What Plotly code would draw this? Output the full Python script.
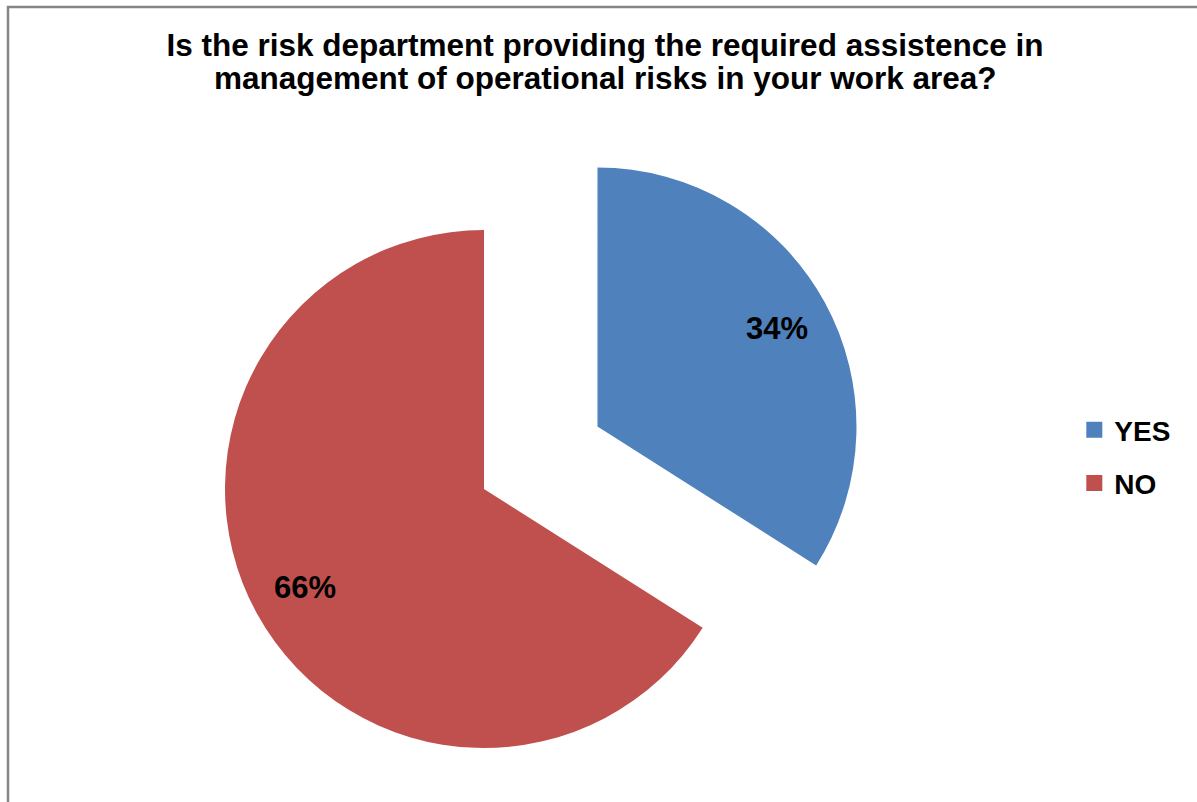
import math
import plotly.graph_objects as go

# Survey answers
categories = ["YES", "NO"]
shares = [34, 66]
slice_colors = ["#4F81BD", "#C0504D"]
pull = [0.5, 0.0]

title_lines = [
    "Is the risk department providing the required assistence in",
    "management of operational risks in your work area?",
]

# Canvas and pie geometry (pixels)
W, H = 1197, 802
R = 259
BASE_CX, BASE_CY = 484, 489
LABEL_R = 0.79
FONT = "Liberation Sans, Arial, sans-serif"

total = sum(shares)
fig = go.Figure()

# One pie per slice so that an exploded slice keeps the full radius:
# every trace draws all slices, only its own one is painted.
start = 0.0
for i, (cat, val) in enumerate(zip(categories, shares)):
    frac = val / total
    mid = (start + frac / 2) * 2 * math.pi  # clockwise from 12 o'clock
    start += frac
    dx, dy = math.sin(mid), -math.cos(mid)
    cx = BASE_CX + pull[i] * R * dx
    cy = BASE_CY + pull[i] * R * dy
    colors = [c if j == i else "rgba(0,0,0,0)" for j, c in enumerate(slice_colors)]
    fig.add_trace(go.Pie(
        labels=categories, values=shares, sort=False,
        direction="clockwise", rotation=0,
        marker=dict(colors=colors, line=dict(width=0)),
        textinfo="none", hoverinfo="skip", showlegend=False,
        domain=dict(x=[(cx - R) / W, (cx + R) / W],
                    y=[1 - (cy + R) / H, 1 - (cy - R) / H]),
    ))
    fig.add_annotation(
        x=(cx + LABEL_R * R * dx) / W, y=1 - (cy + LABEL_R * R * dy) / H,
        xref="paper", yref="paper", xanchor="center", yanchor="middle",
        showarrow=False,
        text=f"{val / total:.0%}",
        font=dict(family=FONT, size=31, color="black", weight="bold"),
    )

# Legend entries
for cat, col in zip(categories, slice_colors):
    fig.add_trace(go.Scatter(
        x=[None], y=[None], mode="markers", name=cat, legendgroup=cat,
        marker=dict(symbol="square", size=16, color=col),
    ))

title_font = dict(family=FONT, size=31.5, color="black", weight="bold")

# Second title line, set separately to keep the tight line spacing
fig.add_annotation(
    x=605 / W, y=1 - 77.5 / H, xref="paper", yref="paper",
    xanchor="center", yanchor="middle", showarrow=False,
    text=title_lines[1], font=title_font,
)

fig.update_layout(
    width=W, height=H,
    margin=dict(l=0, r=0, t=0, b=0),
    paper_bgcolor="white", plot_bgcolor="white",
    xaxis=dict(visible=False), yaxis=dict(visible=False),
    title=dict(
        text=title_lines[0],
        x=605 / W, xanchor="center", y=1 - 44.9 / H, yanchor="middle", yref="container",
        font=title_font,
    ),
    legend=dict(
        x=0.8975, xanchor="left", y=1 - 405 / H, yanchor="top",
        traceorder="grouped", tracegroupgap=14,
        font=dict(family=FONT, size=28, color="black", weight="bold"),
        bgcolor="rgba(0,0,0,0)",
    ),
    shapes=[dict(
        type="rect", xref="paper", yref="paper",
        x0=8 / W, y0=1 - 7 / H, x1=1.05, y1=-0.05,
        line=dict(color="#868686", width=2.5), fillcolor="rgba(0,0,0,0)",
        layer="below",
    )],
)

fig.write_html("out.html")
